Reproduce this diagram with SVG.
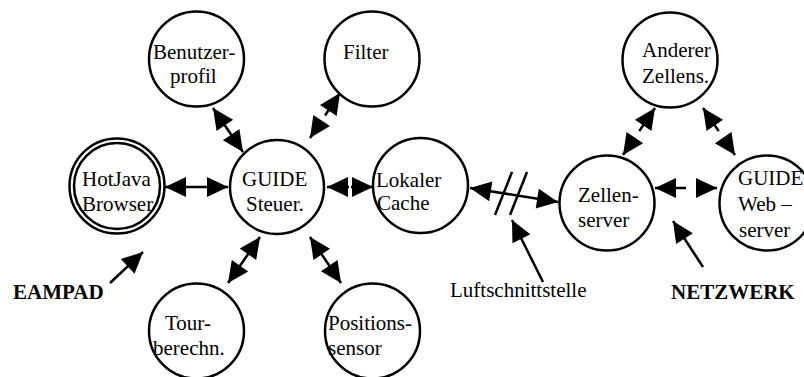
<svg xmlns="http://www.w3.org/2000/svg" width="804" height="377" viewBox="0 0 804 377">
<defs>
<marker id="ah" markerUnits="userSpaceOnUse" markerWidth="22" markerHeight="20" refX="21" refY="10" orient="auto-start-reverse" overflow="visible">
<path d="M0,0 L21,10 L0,20 z" fill="#000"/>
</marker>
<style>
.n{fill:#fff;stroke:#000;stroke-width:2.5}
.t{font-family:"Liberation Serif","Times New Roman",serif;font-size:21px;fill:#000}
.b{font-weight:bold}
.c{stroke:#000;stroke-width:2.5;fill:none}
.d{marker-start:url(#ah);marker-end:url(#ah)}
.e{marker-end:url(#ah)}
</style>
</defs>
<rect width="804" height="377" fill="#fff"/>
<g id="connectors">
<line class="c d" x1="213" y1="108" x2="243" y2="152"/>
<line class="c d" x1="340" y1="93" x2="310" y2="138" stroke-dasharray="27 8 100"/>
<line class="c d" x1="165" y1="187" x2="228" y2="187"/>
<line class="c d" x1="327" y1="187" x2="373" y2="187" stroke-dasharray="22 2 100"/>
<line class="c d" x1="470" y1="188" x2="558" y2="202"/>
<line class="c" x1="495" y1="215" x2="512" y2="172"/>
<line class="c" x1="510" y1="215" x2="527" y2="172"/>
<line class="c d" x1="655" y1="108" x2="623" y2="155" stroke-dasharray="28 8 100"/>
<line class="c d" x1="703" y1="108" x2="735" y2="155" stroke-dasharray="28 8 100"/>
<line class="c d" x1="655" y1="188" x2="717" y2="188" stroke-dasharray="31 10 100"/>
<line class="c d" x1="260" y1="237" x2="228" y2="283"/>
<line class="c d" x1="310" y1="237" x2="341" y2="283"/>
<line class="c e" x1="110" y1="283" x2="143" y2="252"/>
<line class="c e" x1="543" y1="282" x2="512" y2="220"/>
<line class="c e" x1="703" y1="267" x2="673" y2="221"/>
</g>
<g id="benutzerprofil">
<circle class="n" cx="196.5" cy="59" r="47.5"/>
<text class="t" x="153" y="59">Benutzer-</text>
<text class="t" x="170" y="83">profil</text>
</g>
<g id="filter">
<circle class="n" cx="372" cy="59" r="47.5"/>
<text class="t" x="343" y="59">Filter</text>
</g>
<g id="hotjava">
<circle class="n" cx="117" cy="186" r="47.5"/>
<circle class="n" cx="117" cy="186" r="43"/>
<text class="t" x="82" y="186">HotJava</text>
<text class="t" x="82" y="211">Browser</text>
</g>
<g id="guide">
<circle class="n" cx="277" cy="187" r="47" stroke-width="5"/>
<text class="t" x="242" y="186">GUIDE</text>
<text class="t" x="246" y="211">Steuer.</text>
</g>
<g id="lokaler">
<circle class="n" cx="420.5" cy="185.5" r="47.5"/>
<text class="t" x="376" y="187">Lokaler</text>
<text class="t" x="377" y="210">Cache</text>
</g>
<g id="zellenserver">
<circle class="n" cx="607" cy="203" r="47.5"/>
<text class="t" x="578" y="202">Zellen-</text>
<text class="t" x="578" y="227">server</text>
</g>
<g id="anderer">
<circle class="n" cx="670" cy="60" r="47.5"/>
<text class="t" x="642" y="57">Anderer</text>
<text class="t" x="642" y="83">Zellens.</text>
</g>
<g id="webserver">
<circle class="n" cx="767" cy="203" r="47.5"/>
<text class="t" x="738" y="185">GUIDE</text>
<text class="t" x="738" y="211">Web –</text>
<text class="t" x="739" y="237">server</text>
</g>
<g id="tour">
<circle class="n" cx="196.5" cy="331" r="47.5"/>
<text class="t" x="165" y="330">Tour-</text>
<text class="t" x="153" y="355">berechn.</text>
</g>
<g id="position">
<circle class="n" cx="372.5" cy="331" r="47.5"/>
<text class="t" x="328" y="330">Positions-</text>
<text class="t" x="328" y="355">sensor</text>
</g>
<g id="labels">
<text class="t b" x="13" y="299">EAMPAD</text>
<text class="t" x="450" y="297">Luftschnittstelle</text>
<text class="t b" x="671" y="299">NETZWERK</text>
</g>
</svg>
